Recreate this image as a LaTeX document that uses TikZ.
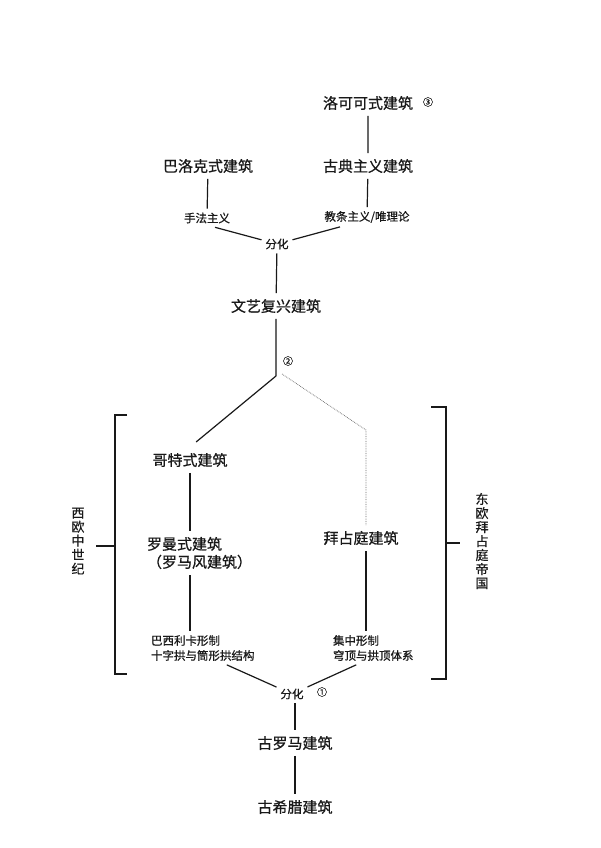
\documentclass[tikz,border=0pt]{standalone}
\usepackage{fontspec}
\setmainfont{Noto Sans CJK SC}[FakeBold=0.7]
\usetikzlibrary{calc,positioning}
\definecolor{archInk}{RGB}{25,25,25}
\definecolor{archDot}{RGB}{105,105,105}

\begin{document}
\begin{tikzpicture}[x=1pt,y=-1pt,
    bigname/.style={font=\fontsize{15}{18}\selectfont,inner sep=2pt,outer sep=4pt,text=archInk},
    smallname/.style={font=\fontsize{11.5}{15}\selectfont,align=left,inner sep=2pt,outer sep=2pt,text=archInk},
    numtag/.style={font=\fontsize{10}{10}\selectfont,inner sep=0pt,text=archInk},
    sidetext/.style={font=\fontsize{13}{14}\selectfont,align=center,inner sep=0pt,text=archInk},
    link/.style={line width=1.2pt,archInk},
    faint/.style={densely dotted,line width=0.7pt,archDot}]
    \useasboundingbox[fill=white] (0,0) rectangle (600,848);
    % upper branch
    \node[bigname] (rococo) at (368,103) {洛可可式建筑};
    \node[numtag] (tag3) at (428,102) {③};
    \node[bigname] (classic) at (368,166) {古典主义建筑};
    \node[smallname] (dogma) at (367,217) {教条主义/唯理论};
    \node[bigname] (baroque) at (208,166) {巴洛克式建筑};
    \node[smallname] (manner) at (207,218) {手法主义};
    \node[smallname] (split2) at (277,244) {分化};
    \node[bigname] (renais) at (276,306) {文艺复兴建筑};
    \coordinate (fork) at (276,376);
    \node[numtag] (tag2) at (288,361) {②};
    \coordinate (bend) at (366,430);
    \draw[link] (rococo) -- (classic) -- (dogma);
    \draw[link] (baroque) -- (manner);
    \draw[link] ([xshift=8pt]manner.south) -- (split2);
    \draw[link] ([xshift=-27pt]dogma.south) -- (split2);
    \draw[link] (split2) -- (renais) -- (fork);
    % middle ages
    \node[bigname] (gothic) at (190,460) {哥特式建筑};
    \node[bigname,align=left,anchor=west] (roman) at (141,553) {罗曼式建筑\\（罗马风建筑）};
    \node[smallname,anchor=west] (basilica) at (147,648) {巴西利卡形制\\十字拱与筒形拱结构};
    \node[bigname] (byz) at (361,538) {拜占庭建筑};
    \node[smallname,anchor=west] (central) at (329,648) {集中形制\\穹顶与拱顶体系};
    \draw[link,shorten >=8pt] (fork) -- (gothic.north);
    \draw[faint] ([xshift=6pt,yshift=2pt]fork) -- (bend) -- (bend |- byz.north);
    \draw[link] (gothic) -- (gothic |- roman.north);
    \draw[link] (roman.south -| gothic) -- (gothic |- basilica.north);
    \draw[link] (byz.south -| bend) -- (bend |- central.north);
    % lower branch
    \node[smallname] (split1) at (292,694) {分化};
    \node[numtag] (tag1) at (322,692) {①};
    \node[bigname] (rome) at (295,743) {古罗马建筑};
    \node[bigname] (greek) at (295,807) {古希腊建筑};
    \draw[link] ([xshift=24pt]basilica.south) -- (split1);
    \draw[link] ([xshift=-17pt]central.south) -- (split1);
    \draw[link] (split1.south -| rome) -- (rome) -- (greek);
    % brackets
    \draw[link] (127,415) -- (115,415) -- (115,674) -- (127,674);
    \draw[link] (96,546) -- (115,546);
    \node[sidetext] (westeu) at (78,541) {西\\欧\\中\\世\\纪};
    \draw[link] (431,407) -- (446,407) -- (446,679) -- (431,679);
    \draw[link] (446,543) -- (460,543);
    \node[sidetext] (easteu) at (482,541) {东\\欧\\拜\\占\\庭\\帝\\国};
\end{tikzpicture}
\end{document}
